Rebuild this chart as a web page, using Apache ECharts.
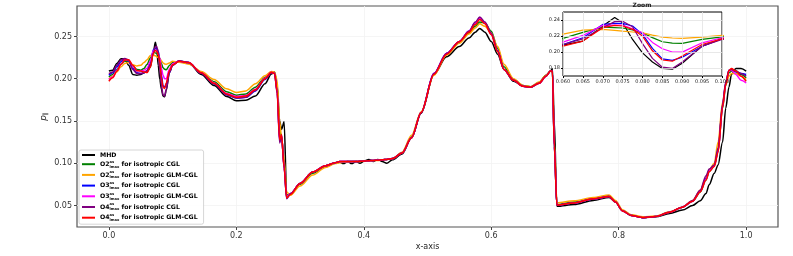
<!DOCTYPE html>
<html><head><meta charset="utf-8">
<script src="https://cdn.jsdelivr.net/npm/echarts@6/dist/echarts.min.js"></script>
<style>html,body{margin:0;padding:0;background:#fff}#c{width:793px;height:256px}</style>
</head><body><div id="c"></div>
<script>
const xs = [0.000,0.006,0.0125,0.019,0.025,0.031,0.0375,0.044,0.050,0.055,
 0.060,0.065,0.070,0.073,0.075,0.0775,0.080,0.0825,0.085,0.0875,
 0.090,0.095,0.100,0.110,0.125,0.145,0.165,0.185,0.200,0.215,
 0.230,0.245,0.255,0.260,0.264,0.268,0.271,0.275,0.279,0.285,
 0.300,0.320,0.340,0.355,0.362,0.368,0.375,0.381,0.388,0.394,
 0.401,0.408,0.415,0.422,0.429,0.436,0.445,0.460,0.475,0.490,
 0.510,0.530,0.550,0.565,0.575,0.582,0.590,0.600,0.610,0.620,
 0.635,0.650,0.662,0.675,0.686,0.693,0.696,0.699,0.703,0.730,
 0.760,0.785,0.795,0.806,0.820,0.838,0.858,0.880,0.900,0.916,
 0.928,0.937,0.942,0.950,0.956,0.963,0.968,0.973,0.977,0.984,
 0.992,1.000];

const mhd = [0.209,0.210,0.218,0.2235,0.2235,0.216,0.205,0.204,0.205,0.207,
 0.2086,0.2136,0.2325,0.243,0.2366,0.2157,0.1989,0.1875,0.1795,0.1785,
 0.186,0.2073,0.2165,0.221,0.219,0.205,0.192,0.179,0.174,0.1745,
 0.1795,0.194,0.2055,0.208,0.192,0.150,0.140,0.149,0.062,0.063,
 0.076,0.089,0.097,0.1005,0.1015,0.0995,0.102,0.0995,0.102,0.100,
 0.1025,0.1045,0.102,0.1045,0.102,0.100,0.104,0.111,0.130,0.159,
 0.205,0.226,0.238,0.248,0.255,0.2595,0.255,0.244,0.229,0.211,
 0.197,0.191,0.190,0.195,0.204,0.209,0.212,0.150,0.049,0.051,
 0.056,0.0595,0.054,0.044,0.038,0.0355,0.0365,0.0405,0.0445,0.050,
 0.0555,0.064,0.0745,0.088,0.098,0.125,0.165,0.190,0.205,0.212,
 0.212,0.209];

const o2Cgl = [0.202,0.205,0.211,0.217,0.2205,0.221,0.215,0.211,0.210,0.212,
 0.217,0.2245,0.2312,0.2305,0.230,0.2275,0.224,0.218,0.2128,0.2112,
 0.2107,0.2157,0.219,0.220,0.218,0.2075,0.1965,0.1845,0.1805,0.182,
 0.190,0.2015,0.208,0.207,0.192,0.138,0.130,0.100,0.061,0.063,
 0.075,0.088,0.096,0.100,0.101,0.1015,0.102,0.102,0.102,0.1022,
 0.1025,0.103,0.1032,0.1035,0.104,0.1045,0.1055,0.1125,0.131,0.160,
 0.205,0.229,0.243,0.254,0.262,0.267,0.266,0.256,0.236,0.214,
 0.199,0.192,0.1905,0.1955,0.2035,0.209,0.208,0.122,0.051,0.054,
 0.058,0.0615,0.0545,0.044,0.0385,0.0357,0.037,0.042,0.048,0.055,
 0.066,0.080,0.090,0.097,0.115,0.165,0.192,0.207,0.209,0.209,
 0.205,0.201];

const o2Glm = [0.200,0.203,0.208,0.214,0.218,0.219,0.2165,0.215,0.216,0.219,
 0.2224,0.2274,0.2283,0.227,0.226,0.225,0.224,0.221,0.2186,0.2175,
 0.217,0.2186,0.2207,0.2195,0.2175,0.2085,0.199,0.188,0.1836,0.1855,
 0.194,0.2035,0.2085,0.208,0.198,0.150,0.130,0.105,0.066,0.062,
 0.073,0.086,0.095,0.0995,0.1005,0.101,0.1015,0.1018,0.102,0.102,
 0.1023,0.1028,0.103,0.1033,0.1038,0.1043,0.1053,0.113,0.133,0.161,
 0.204,0.228,0.242,0.253,0.260,0.265,0.262,0.254,0.238,0.217,
 0.200,0.192,0.1905,0.196,0.204,0.209,0.207,0.125,0.053,0.0555,
 0.0595,0.0625,0.056,0.045,0.039,0.0365,0.0375,0.0425,0.048,0.056,
 0.068,0.083,0.092,0.100,0.125,0.172,0.193,0.203,0.206,0.206,
 0.203,0.199];

const o3Cgl = [0.204,0.207,0.214,0.220,0.223,0.221,0.212,0.207,0.206,0.207,
 0.2094,0.2178,0.2345,0.2358,0.2358,0.2325,0.222,0.2045,0.1915,0.1895,
 0.1935,0.2073,0.2165,0.221,0.219,0.2065,0.194,0.181,0.177,0.178,
 0.1855,0.199,0.207,0.2065,0.186,0.128,0.133,0.096,0.059,0.064,
 0.076,0.0895,0.097,0.1005,0.102,0.102,0.102,0.102,0.102,0.1022,
 0.1025,0.103,0.1032,0.1035,0.104,0.1045,0.1055,0.112,0.130,0.160,
 0.206,0.230,0.244,0.256,0.266,0.272,0.266,0.253,0.233,0.211,
 0.198,0.191,0.190,0.1945,0.203,0.209,0.209,0.120,0.0505,0.053,
 0.0575,0.0605,0.054,0.0435,0.038,0.0355,0.037,0.042,0.048,0.055,
 0.067,0.082,0.091,0.097,0.115,0.168,0.195,0.210,0.211,0.208,
 0.206,0.205];

const o3Glm = [0.199,0.202,0.210,0.217,0.222,0.222,0.215,0.2095,0.209,0.210,
 0.2123,0.2207,0.2333,0.2337,0.2337,0.229,0.224,0.212,0.204,0.200,
 0.1998,0.2115,0.2178,0.2205,0.219,0.207,0.195,0.1825,0.179,0.180,
 0.1875,0.2005,0.2075,0.2065,0.185,0.126,0.133,0.095,0.060,0.064,
 0.076,0.0895,0.097,0.1005,0.102,0.102,0.102,0.102,0.102,0.1022,
 0.1025,0.103,0.1032,0.1035,0.104,0.1045,0.1055,0.112,0.130,0.160,
 0.206,0.230,0.244,0.256,0.266,0.272,0.266,0.253,0.233,0.211,
 0.198,0.191,0.190,0.1945,0.203,0.209,0.209,0.120,0.0505,0.053,
 0.0575,0.0605,0.054,0.0435,0.038,0.0355,0.037,0.042,0.048,0.055,
 0.067,0.081,0.091,0.097,0.114,0.167,0.194,0.209,0.210,0.205,
 0.198,0.195];

const o4Cgl = [0.206,0.208,0.216,0.222,0.224,0.222,0.211,0.206,0.206,0.207,
 0.2094,0.2165,0.2304,0.238,0.2385,0.2316,0.2105,0.192,0.181,0.1795,
 0.1875,0.2073,0.2157,0.221,0.219,0.2065,0.194,0.181,0.177,0.178,
 0.186,0.1995,0.207,0.2065,0.183,0.124,0.132,0.094,0.058,0.064,
 0.076,0.0895,0.097,0.1005,0.102,0.102,0.102,0.102,0.102,0.1022,
 0.1025,0.103,0.1032,0.1035,0.104,0.1045,0.1055,0.112,0.130,0.160,
 0.206,0.230,0.244,0.256,0.267,0.273,0.267,0.254,0.233,0.211,
 0.198,0.191,0.190,0.1945,0.203,0.209,0.209,0.118,0.0505,0.053,
 0.0575,0.0605,0.054,0.0435,0.038,0.0355,0.037,0.042,0.048,0.056,
 0.068,0.085,0.093,0.098,0.118,0.170,0.196,0.210,0.211,0.209,
 0.206,0.203];

const o4Glm = [0.197,0.201,0.209,0.217,0.222,0.2225,0.216,0.2095,0.209,0.208,
 0.2073,0.2136,0.2304,0.2333,0.2325,0.2283,0.2199,0.2015,0.190,0.1885,
 0.195,0.2094,0.2165,0.2205,0.219,0.207,0.1945,0.182,0.178,0.1795,
 0.187,0.200,0.2075,0.206,0.185,0.128,0.134,0.095,0.059,0.063,
 0.076,0.0895,0.097,0.1005,0.102,0.102,0.102,0.102,0.102,0.1022,
 0.1025,0.103,0.1032,0.1035,0.104,0.1045,0.1055,0.112,0.130,0.160,
 0.205,0.229,0.244,0.255,0.264,0.270,0.265,0.252,0.232,0.211,
 0.198,0.191,0.190,0.1945,0.203,0.209,0.209,0.120,0.0505,0.053,
 0.058,0.0605,0.054,0.0435,0.038,0.0357,0.037,0.042,0.048,0.055,
 0.066,0.080,0.090,0.096,0.113,0.166,0.193,0.2097,0.212,0.209,
 0.203,0.197];

const xTicks = [0.0, 0.2, 0.4, 0.6, 0.8, 1.0];
const yTicks = [0.05, 0.10, 0.15, 0.20, 0.25];
const zoomXTicks = [0.060, 0.065, 0.070, 0.075, 0.080, 0.085, 0.090, 0.095, 0.100];
const zoomYTicks = [0.18, 0.20, 0.22, 0.24];

const seriesDefs = [
  {name: 'MHD', data: mhd, color: '#000000'},
  {name: 'O2|CGL', data: o2Cgl, color: '#008000'},
  {name: 'O2|GLM-CGL', data: o2Glm, color: '#FFA500'},
  {name: 'O3|CGL', data: o3Cgl, color: '#0000FF'},
  {name: 'O3|GLM-CGL', data: o3Glm, color: '#FF00FF'},
  {name: 'O4|CGL', data: o4Cgl, color: '#800080'},
  {name: 'O4|GLM-CGL', data: o4Glm, color: '#FF0000'}
];

const FONT = 'DejaVu Sans';
const pairs = arr => xs.map((x, i) => [x, arr[i]]);

const series = [];
seriesDefs.forEach((s, k) => {
  series.push({
    type: 'line', name: s.name, data: pairs(s.data),
    xAxisIndex: 0, yAxisIndex: 0, symbol: 'none', smooth: 0.3, smoothMonotone: 'x',
    lineStyle: {color: s.color, width: 1.5}, itemStyle: {color: s.color},
    z: 2 + k * 0.01, animation: false, silent: true
  });
});
seriesDefs.forEach((s, k) => {
  series.push({
    type: 'line', name: s.name, data: pairs(s.data),
    xAxisIndex: 1, yAxisIndex: 1, symbol: 'none', clip: true,
    lineStyle: {color: s.color, width: 1.2}, itemStyle: {color: s.color},
    z: 5 + k * 0.01, animation: false, silent: true
  });
});

const chart = echarts.init(document.getElementById('c'), null, {renderer: 'canvas'});
chart.setOption({
  animation: false,
  backgroundColor: '#fff',
  grid: [
    {left: 77, right: 15, top: 6, bottom: 26, show: true, borderColor: '#555', borderWidth: 1.2, backgroundColor: '#fff'},
    {left: 563, right: 71, top: 12, bottom: 180, show: true, borderColor: '#000', borderWidth: 1, backgroundColor: '#fff', z: 4}
  ],
  xAxis: [
    {type: 'value', gridIndex: 0, min: -0.05, max: 1.05,
     name: 'x-axis', nameLocation: 'middle', nameGap: 16, nameMoveOverlap: false,
     nameTextStyle: {fontFamily: FONT, fontSize: 8, color: '#222'},
     axisLine: {show: false, onZero: false},
     axisTick: {show: true, length: 3, lineStyle: {color: '#444'}, customValues: xTicks},
     axisLabel: {fontFamily: FONT, fontSize: 8, color: '#333', margin: 5, customValues: xTicks,
       formatter: v => v.toFixed(1)},
     splitLine: {show: true, lineStyle: {color: '#f2f2f2', width: 0.8}}},
    {type: 'value', gridIndex: 1, min: 0.06, max: 0.10, z: 6,
     axisLine: {show: false, onZero: false},
     axisTick: {show: true, length: 2, lineStyle: {color: '#000'}, customValues: zoomXTicks},
     axisLabel: {fontFamily: FONT, fontSize: 5, color: '#222', margin: 3, customValues: zoomXTicks,
       formatter: v => v.toFixed(3)},
     splitLine: {show: true, lineStyle: {color: '#e2e2e2', width: 0.8}}}
  ],
  yAxis: [
    {type: 'value', gridIndex: 0, min: 0.0245, max: 0.286,
     name: '{i|p}{s|∥}', nameLocation: 'middle', nameGap: 29, nameRotate: 90, nameMoveOverlap: false,
     nameTextStyle: {fontFamily: FONT, fontSize: 9, color: '#222',
       rich: {i: {fontFamily: FONT, fontSize: 9, fontStyle: 'italic', color: '#222'},
              s: {fontFamily: FONT, fontSize: 6, color: '#222', verticalAlign: 'bottom', lineHeight: 6}}},
     axisLine: {show: false, onZero: false},
     axisTick: {show: true, length: 3, lineStyle: {color: '#444'}, customValues: yTicks},
     axisLabel: {fontFamily: FONT, fontSize: 8, color: '#333', margin: 5, customValues: yTicks,
       formatter: v => v.toFixed(2)},
     splitLine: {show: true, lineStyle: {color: '#f2f2f2', width: 0.8}}},
    {type: 'value', gridIndex: 1, min: 0.17, max: 0.25, z: 6,
     axisLine: {show: false, onZero: false},
     axisTick: {show: true, length: 2, lineStyle: {color: '#000'}, customValues: zoomYTicks},
     axisLabel: {fontFamily: FONT, fontSize: 5, color: '#222', margin: 3, customValues: zoomYTicks,
       formatter: v => v.toFixed(2)},
     splitLine: {show: true, lineStyle: {color: '#e2e2e2', width: 0.8}}}
  ],
  legend: {
    show: true, orient: 'vertical', left: 79, top: 150,
    data: seriesDefs.map(s => s.name),
    icon: 'rect', itemWidth: 13, itemHeight: 2, itemGap: 1.7,
    padding: [2, 6, 2, 3],
    backgroundColor: 'rgba(255,255,255,0.85)', borderColor: '#cccccc', borderWidth: 0.8, borderRadius: 2,
    selectedMode: false,
    formatter: name => {
      if (name === 'MHD') return '{b|MHD}';
      const p = name.split('|');
      return '{b|' + p[0] + '}{sup|as}{sub|lmax}{b| for isotropic ' + p[1] + '}';
    },
    textStyle: {fontFamily: FONT, fontSize: 6, fontWeight: 'bold', color: '#000',
      rich: {
        b: {fontFamily: FONT, fontSize: 6.2, fontWeight: 'bold', color: '#000', lineHeight: 9},
        sup: {fontFamily: FONT, fontSize: 3.6, fontWeight: 'bold', color: '#000', verticalAlign: 'top', lineHeight: 4, width: 0},
        sub: {fontFamily: FONT, fontSize: 3.6, fontWeight: 'bold', color: '#000', verticalAlign: 'bottom', lineHeight: 4}
      }}
  },
  graphic: [
    {type: 'text', x: 642, y: 5, z: 10,
     style: {text: 'Zoom', fontFamily: FONT, fontSize: 6, fontWeight: 'bold', fill: '#222', align: 'center', verticalAlign: 'middle'}}
  ],
  series: series
});
</script></body></html>
